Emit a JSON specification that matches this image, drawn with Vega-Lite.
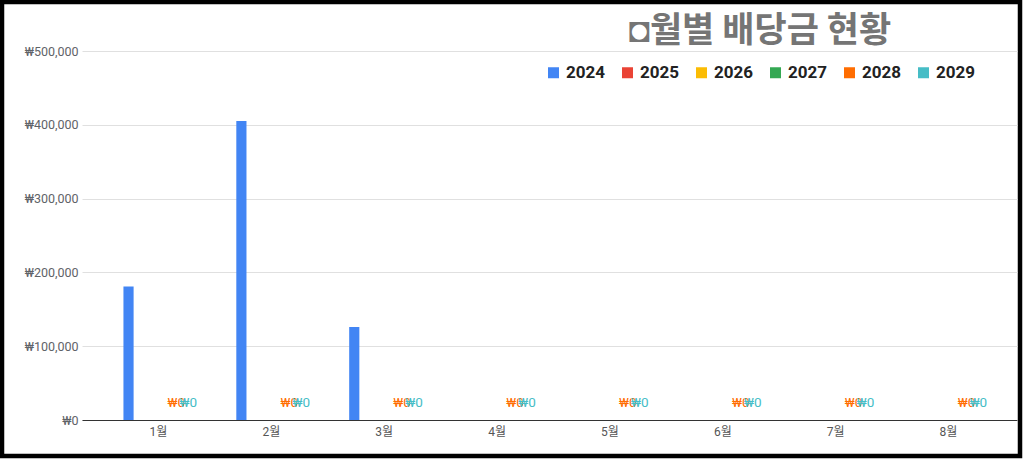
{
  "$schema": "https://vega.github.io/schema/vega-lite/v6.json",
  "width": 1018,
  "height": 454,
  "autosize": {"type": "none"},
  "padding": {"left": 2, "top": 2, "right": 4, "bottom": 4},
  "background": "white",
  "title": {
    "text": "◘월별 배당금 현황",
    "anchor": "middle",
    "dx": 249,
    "offset": -47,
    "fontSize": 35,
    "font": "Noto Sans CJK KR",
    "fontWeight": "bold",
    "color": "#757575"
  },
  "data": {
    "values": [
      {"month": "1월", "year": 2024, "value": 181000},
      {"month": "2월", "year": 2024, "value": 405000},
      {"month": "3월", "year": 2024, "value": 126000},
      {"month": "4월", "year": 2024, "value": 0},
      {"month": "5월", "year": 2024, "value": 0},
      {"month": "6월", "year": 2024, "value": 0},
      {"month": "7월", "year": 2024, "value": 0},
      {"month": "8월", "year": 2024, "value": 0},
      {"month": "1월", "year": 2025, "value": 0},
      {"month": "2월", "year": 2025, "value": 0},
      {"month": "3월", "year": 2025, "value": 0},
      {"month": "4월", "year": 2025, "value": 0},
      {"month": "5월", "year": 2025, "value": 0},
      {"month": "6월", "year": 2025, "value": 0},
      {"month": "7월", "year": 2025, "value": 0},
      {"month": "8월", "year": 2025, "value": 0},
      {"month": "1월", "year": 2026, "value": 0},
      {"month": "2월", "year": 2026, "value": 0},
      {"month": "3월", "year": 2026, "value": 0},
      {"month": "4월", "year": 2026, "value": 0},
      {"month": "5월", "year": 2026, "value": 0},
      {"month": "6월", "year": 2026, "value": 0},
      {"month": "7월", "year": 2026, "value": 0},
      {"month": "8월", "year": 2026, "value": 0},
      {"month": "1월", "year": 2027, "value": 0},
      {"month": "2월", "year": 2027, "value": 0},
      {"month": "3월", "year": 2027, "value": 0},
      {"month": "4월", "year": 2027, "value": 0},
      {"month": "5월", "year": 2027, "value": 0},
      {"month": "6월", "year": 2027, "value": 0},
      {"month": "7월", "year": 2027, "value": 0},
      {"month": "8월", "year": 2027, "value": 0},
      {"month": "1월", "year": 2028, "value": 0},
      {"month": "2월", "year": 2028, "value": 0},
      {"month": "3월", "year": 2028, "value": 0},
      {"month": "4월", "year": 2028, "value": 0},
      {"month": "5월", "year": 2028, "value": 0},
      {"month": "6월", "year": 2028, "value": 0},
      {"month": "7월", "year": 2028, "value": 0},
      {"month": "8월", "year": 2028, "value": 0},
      {"month": "1월", "year": 2029, "value": 0},
      {"month": "2월", "year": 2029, "value": 0},
      {"month": "3월", "year": 2029, "value": 0},
      {"month": "4월", "year": 2029, "value": 0},
      {"month": "5월", "year": 2029, "value": 0},
      {"month": "6월", "year": 2029, "value": 0},
      {"month": "7월", "year": 2029, "value": 0},
      {"month": "8월", "year": 2029, "value": 0}
    ]
  },
  "encoding": {
    "x": {
      "field": "month",
      "type": "ordinal",
      "scale": {
        "domain": ["1월", "2월", "3월", "4월", "5월", "6월", "7월", "8월"],
        "range": [80, 1015],
        "paddingInner": 0.38,
        "paddingOuter": 0.332,
        "align": 0.553
      },
      "axis": {
        "title": null,
        "orient": "bottom",
        "offset": -36,
        "domainColor": "#333333",
        "domainWidth": 1,
        "ticks": false,
        "tickSize": 0,
        "labelPadding": 6,
        "labelAngle": 0,
        "labelFont": "Roboto, Noto Sans CJK KR",
        "labelFontSize": 12,
        "labelColor": "#555555",
        "grid": false
      }
    },
    "xOffset": {
      "field": "year",
      "type": "nominal",
      "scale": {"domain": [2024, 2025, 2026, 2027, 2028, 2029], "paddingInner": 0.15, "paddingOuter": 0}
    },
    "y": {
      "field": "value",
      "type": "quantitative",
      "scale": {"domain": [0, 500000], "range": [418, 49], "nice": false, "zero": true},
      "axis": {
        "title": null,
        "values": [0, 100000, 200000, 300000, 400000, 500000],
        "format": "$,.0f",
        "offset": -80,
        "domain": false,
        "ticks": false,
        "labelPadding": 4,
        "grid": true,
        "gridColor": "#e0e0e0",
        "gridWidth": 1,
        "labelFont": "Roboto",
        "labelFontSize": 12.5,
        "labelColor": "#5f6368"
      }
    },
    "color": {
      "field": "year",
      "type": "nominal",
      "scale": {
        "domain": [2024, 2025, 2026, 2027, 2028, 2029],
        "range": ["#4285F4", "#EA4335", "#FBBC04", "#34A853", "#FF6D01", "#46BDC6"]
      },
      "legend": {
        "orient": "none",
        "legendX": 543,
        "legendY": 62,
        "direction": "horizontal",
        "columns": 6,
        "title": null,
        "symbolType": "square",
        "symbolSize": 121,
        "symbolStrokeWidth": 0,
        "symbolOpacity": 1,
        "labelFont": "Roboto",
        "labelFontSize": 17,
        "labelFontWeight": "bold",
        "labelColor": "#222222",
        "labelOffset": 4,
        "columnPadding": 13,
        "padding": 0
      }
    }
  },
  "layer": [
    {
      "mark": {"type": "bar"}
    },
    {
      "transform": [{"filter": {"field": "year", "oneOf": [2028, 2029]}}],
      "mark": {"type": "text", "dy": -17, "fontSize": 13.5, "font": "Roboto", "baseline": "middle"},
      "encoding": {
        "text": {"field": "value", "type": "quantitative", "format": "$,.0f"}
      }
    }
  ],
  "config": {
    "locale": {
      "number": {"decimal": ".", "thousands": ",", "grouping": [3], "currency": ["₩", ""]}
    },
    "view": {"stroke": "black", "strokeWidth": 4.5, "fill": "white"}
  }
}
